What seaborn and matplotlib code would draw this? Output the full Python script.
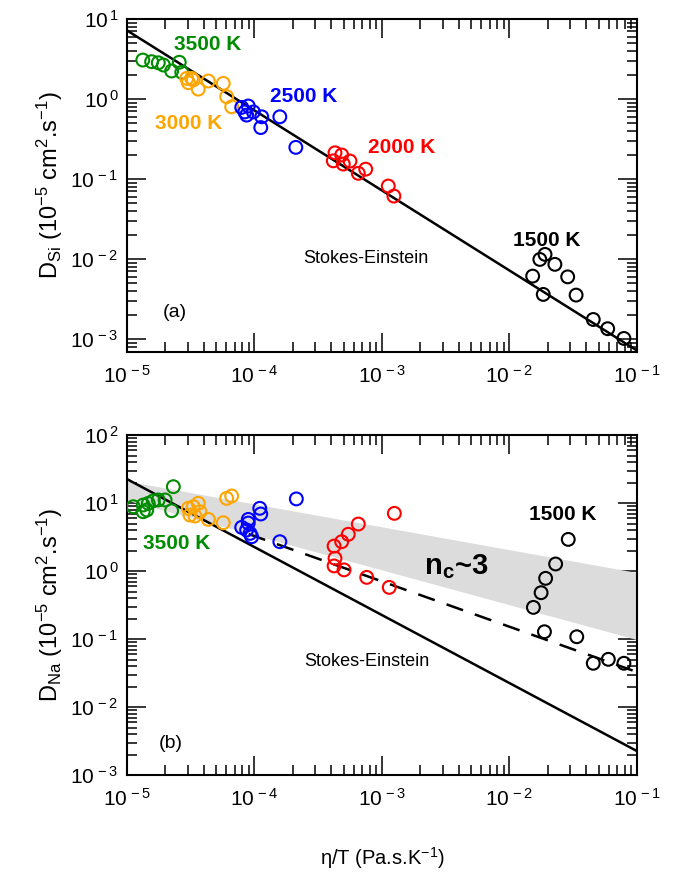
import numpy as np
import pandas as pd
import matplotlib
matplotlib.use("Agg")
import matplotlib.pyplot as plt
import matplotlib.ticker as mticker
import seaborn as sns

# ==========================================
# Data
# ==========================================
TEMPS = ["3500 K", "3000 K", "2500 K", "2000 K", "1500 K"]
PALETTE = {"3500 K": "#008c00", "3000 K": "#ffa500", "2500 K": "#0000ff",
           "2000 K": "#ff0000", "1500 K": "#000000"}

# (a) D_Si vs eta/T
si_3500_x = [1.33e-5, 1.56e-5, 1.76e-5, 1.93e-5, 2.24e-5, 2.57e-5, 2.69e-5]
si_3500_y = [3.07, 2.93, 2.84, 2.66, 2.24, 2.88, 2.16]
si_3000_x = [2.94e-5, 3.21e-5, 3.03e-5, 3.31e-5, 3.62e-5, 4.34e-5, 5.69e-5, 6.05e-5, 6.62e-5]
si_3000_y = [1.81, 1.81, 1.60, 1.73, 1.33, 1.68, 1.57, 1.07, 0.80]
si_2500_x = [7.94e-5, 8.94e-5, 9.8e-5, 8.4e-5, 8.68e-5, 1.14e-4, 1.12e-4, 1.58e-4, 2.11e-4]
si_2500_y = [0.787, 0.818, 0.69, 0.69, 0.63, 0.60, 0.44, 0.60, 0.249]
si_2000_x = [4.28e-4, 4.83e-4, 4.15e-4, 4.97e-4, 5.61e-4, 6.52e-4, 7.45e-4, 1.12e-3, 1.24e-3]
si_2000_y = [0.213, 0.20, 0.169, 0.154, 0.168, 0.118, 0.133, 0.0818, 0.0613]
si_1500_x = [0.019, 0.0173, 0.0227, 0.0152, 0.0286, 0.0184, 0.0333, 0.0454, 0.0589, 0.079]
si_1500_y = [0.01145, 0.0099, 0.0086, 0.00613, 0.0060, 0.00362, 0.00355, 0.00176, 0.00135, 0.00102]

# (b) D_Na vs eta/T
na_3500_x = [1.12e-5, 1.34e-5, 1.47e-5, 1.61e-5, 1.76e-5, 1.99e-5, 1.34e-5, 1.43e-5, 2.24e-5, 2.31e-5]
na_3500_y = [8.83, 9.35, 9.9, 10.8, 11.1, 11.1, 7.45, 7.9, 7.7, 17.4]
na_3000_x = [3.03e-5, 3.31e-5, 3.62e-5, 3.12e-5, 3.41e-5, 3.74e-5, 4.34e-5, 5.69e-5, 6.05e-5, 6.62e-5]
na_3000_y = [8.36, 8.83, 9.9, 6.66, 6.44, 7.45, 5.75, 5.13, 11.7, 12.7]
na_2500_x = [7.94e-5, 8.94e-5, 8.94e-5, 8.68e-5, 9.23e-5, 9.5e-5, 1.1e-4, 1.12e-4, 1.58e-4, 2.13e-4]
na_2500_y = [4.39, 5.75, 5.08, 4.01, 3.58, 3.19, 8.36, 6.9, 2.70, 11.5]
na_2000_x = [1.25e-3, 6.52e-4, 5.44e-4, 4.83e-4, 4.21e-4, 4.28e-4, 4.21e-4, 5.04e-4, 7.59e-4, 1.14e-3]
na_2000_y = [7.05, 4.91, 3.47, 2.70, 2.33, 1.54, 1.19, 1.04, 0.807, 0.575]
na_1500_x = [0.0289, 0.023, 0.0192, 0.0177, 0.0154, 0.0188, 0.0337, 0.0454, 0.0596, 0.079]
na_1500_y = [2.92, 1.27, 0.781, 0.48, 0.292, 0.128, 0.108, 0.044, 0.0503, 0.044]

# Reference lines / band (end points, straight in log-log)
line_x = [1e-5, 1e-1]
se_si = [7.2, 7.2e-4]          # Stokes-Einstein, Si
se_na = [22.5, 2.25e-3]        # Stokes-Einstein, Na
frac_x = [9e-5, 1e-1]
frac_na = [3.5, 0.0327]        # fractional SE (dashed)
band_lo = [11.0, 0.098]        # n_c ~ 3 band
band_hi = [21.0, 0.95]


def to_frame(xs, ys):
    rows = []
    for t, x, y in zip(TEMPS, xs, ys):
        rows += [{"eta_T": a, "D": b, "T": t} for a, b in zip(x, y)]
    return pd.DataFrame(rows)


si_df = to_frame([si_3500_x, si_3000_x, si_2500_x, si_2000_x, si_1500_x],
                 [si_3500_y, si_3000_y, si_2500_y, si_2000_y, si_1500_y])
na_df = to_frame([na_3500_x, na_3000_x, na_2500_x, na_2000_x, na_1500_x],
                 [na_3500_y, na_3000_y, na_2500_y, na_2000_y, na_1500_y])

# ==========================================
# Style
# ==========================================
sns.set_style("ticks")
plt.rcParams["font.family"] = ["Liberation Sans", "DejaVu Sans"]
plt.rcParams["mathtext.fontset"] = "custom"
plt.rcParams["mathtext.rm"] = "Liberation Sans"
plt.rcParams["mathtext.it"] = "Liberation Sans:italic"
plt.rcParams["mathtext.bf"] = "Liberation Sans:bold"
plt.rcParams["mathtext.default"] = "regular"
for key in ("text.color", "axes.labelcolor", "axes.edgecolor",
            "xtick.color", "ytick.color"):
    plt.rcParams[key] = "black"


def decade_label(v, pos):
    e = int(round(np.log10(v)))
    return r"10$^{\,%d}$" % e


def open_circles(ax, df):
    sns.scatterplot(data=df, x="eta_T", y="D", hue="T", palette=PALETTE,
                    hue_order=TEMPS, marker="o", s=85, linewidth=1.5,
                    legend=False, ax=ax, zorder=4)
    coll = ax.collections[-1]
    coll.set_edgecolors(coll.get_facecolors())
    coll.set_facecolors("none")


def style_axis(ax, ylim):
    ax.set_xscale("log")
    ax.set_yscale("log")
    ax.set_xlim(1e-5, 1e-1)
    ax.set_ylim(*ylim)
    for axis in (ax.xaxis, ax.yaxis):
        axis.set_major_formatter(mticker.FuncFormatter(decade_label))
        axis.set_minor_formatter(mticker.NullFormatter())
    ax.tick_params(which="both", direction="in", top=True, right=True,
                   width=1.1, labelsize=15, colors="black")
    ax.tick_params(axis="x", pad=9)
    ax.tick_params(axis="y", pad=6)
    ax.tick_params(which="major", length=14)
    ax.tick_params(which="minor", length=7)
    for s in ax.spines.values():
        s.set_linewidth(1.5)
        s.set_color("black")
    ax.set_xlabel("")


fig = plt.figure(figsize=(6.82, 8.72), dpi=100)
ax1 = fig.add_axes([0.1862, 0.5963, 0.7478, 0.3819])
ax2 = fig.add_axes([0.1862, 0.1112, 0.7478, 0.3899])

# ---- (a) Si ----
sns.lineplot(x=line_x, y=se_si, color="black", linewidth=1.8, ax=ax1)
open_circles(ax1, si_df)
style_axis(ax1, (6.9e-4, 10))
ax1.set_ylabel(r"D$_{Si}$ (10$^{-5}$ cm$^{2}$.s$^{-1}$)", fontsize=17, labelpad=4)

lab_kw = dict(transform=ax1.transAxes, ha="center", va="center",
              fontsize=15, fontweight="bold")
ax1.text(0.159, 0.922, "3500 K", color=PALETTE["3500 K"], **lab_kw)
ax1.text(0.120, 0.685, "3000 K", color=PALETTE["3000 K"], **lab_kw)
ax1.text(0.347, 0.766, "2500 K", color=PALETTE["2500 K"], **lab_kw)
ax1.text(0.539, 0.613, "2000 K", color=PALETTE["2000 K"], **lab_kw)
ax1.text(0.8235, 0.336, "1500 K", color=PALETTE["1500 K"], **lab_kw)
ax1.text(0.469, 0.282, "Stokes-Einstein", transform=ax1.transAxes,
         ha="center", va="center", fontsize=13)
ax1.text(0.094, 0.12, "(a)", transform=ax1.transAxes,
         ha="center", va="center", fontsize=14)

# ---- (b) Na ----
ax2.fill_between(line_x, band_lo, band_hi, color="#dcdcdc", linewidth=0, zorder=1)
sns.lineplot(x=line_x, y=se_na, color="black", linewidth=1.8, ax=ax2)
sns.lineplot(x=frac_x, y=frac_na, color="black", linewidth=1.8, ax=ax2)
ax2.lines[-1].set_dashes([7, 5])
open_circles(ax2, na_df)
style_axis(ax2, (1e-3, 1e2))
ax2.set_ylabel(r"D$_{Na}$ (10$^{-5}$ cm$^{2}$.s$^{-1}$)", fontsize=17, labelpad=4)
ax2.set_xlabel(r"$\eta$/T (Pa.s.K$^{-1}$)", fontsize=14.5, labelpad=26)

lab_kw["transform"] = ax2.transAxes
ax2.text(0.098, 0.682, "3500 K", color=PALETTE["3500 K"], **lab_kw)
ax2.text(0.855, 0.765, "1500 K", color=PALETTE["1500 K"], **lab_kw)
ax2.text(0.645, 0.612, r"n$_{\mathbf{c}}$~3", transform=ax2.transAxes,
         ha="center", va="center", fontsize=21, fontweight="bold")
ax2.text(0.47, 0.335, "Stokes-Einstein", transform=ax2.transAxes,
         ha="center", va="center", fontsize=13)
ax2.text(0.086, 0.094, "(b)", transform=ax2.transAxes,
         ha="center", va="center", fontsize=14)

fig.savefig("out.png", dpi=100)
